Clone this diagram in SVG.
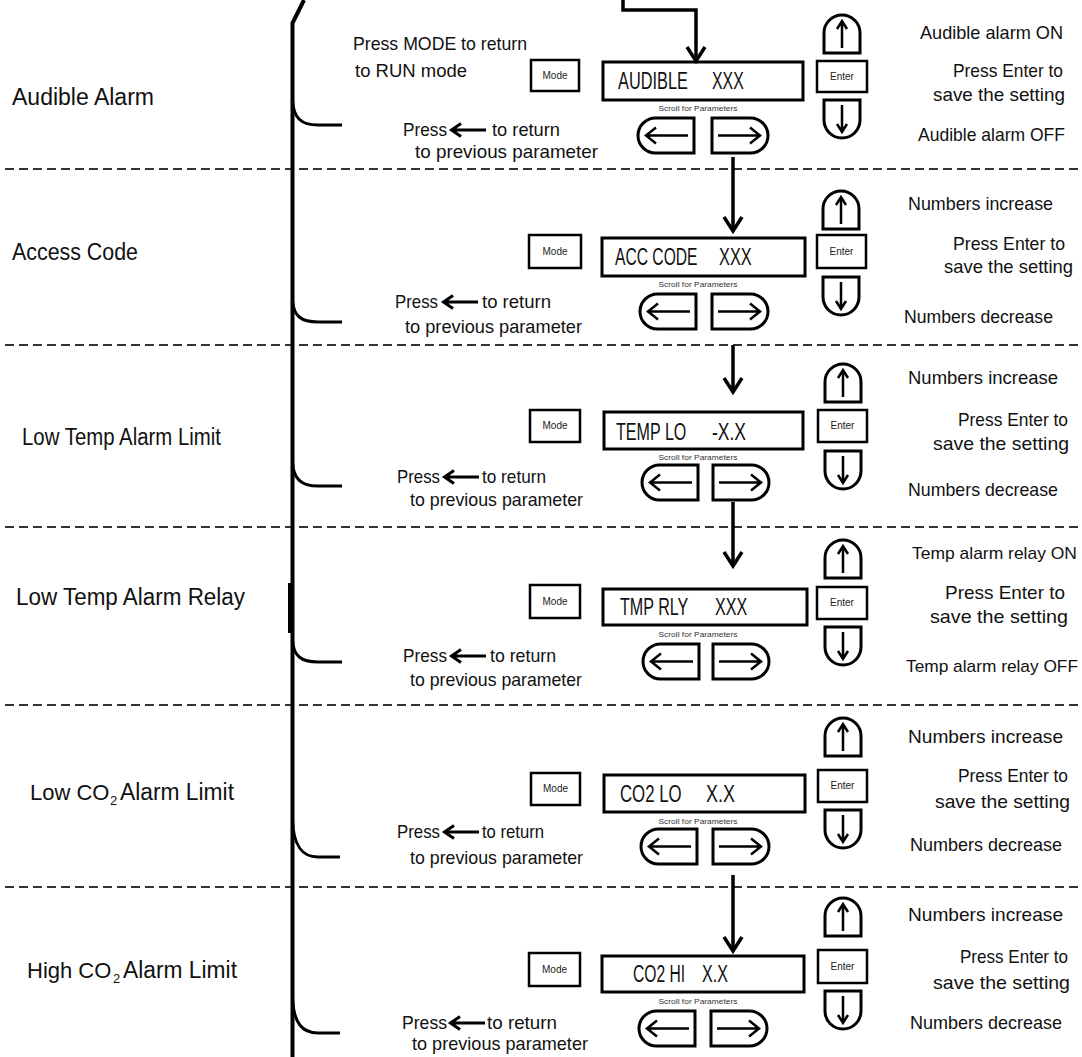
<svg xmlns="http://www.w3.org/2000/svg" xmlns:xlink="http://www.w3.org/1999/xlink" width="1082" height="1057" viewBox="0 0 1082 1057">
<style>
.lab{font-family:"Liberation Sans",Arial,sans-serif;font-size:23px;fill:#111}
.lab2{font-family:"Liberation Sans",Arial,sans-serif;font-size:22px;fill:#111}
.sub{font-family:"Liberation Sans",Arial,sans-serif;font-size:13px;fill:#111}
.t{font-family:"Liberation Sans Narrow","Liberation Sans",Arial,sans-serif;font-size:19px;fill:#111}
.bx{font-family:"Liberation Sans Narrow","Liberation Sans",Arial,sans-serif;font-size:23px;fill:#111}
.sm{font-family:"Liberation Sans Narrow","Liberation Sans",Arial,sans-serif;font-size:10px;fill:#222;text-anchor:middle}
.tiny{font-family:"Liberation Sans Narrow","Liberation Sans",Arial,sans-serif;font-size:7px;fill:#333;text-anchor:middle}
.box{fill:none;stroke:#000;stroke-width:3}
.kb{fill:#fff;stroke:#000;stroke-width:2.5}
.btn{fill:#fff;stroke:#000;stroke-width:3}
.ar{fill:none;stroke:#000;stroke-width:2.5}
.pa{fill:none;stroke:#000;stroke-width:3}
.div{fill:none;stroke:#333;stroke-width:2;stroke-dasharray:9 5}
.conn{fill:none;stroke:#000;stroke-width:3.5}
.brk{fill:none;stroke:#000;stroke-width:3}
</style>
<defs>
<marker id="ah" markerUnits="userSpaceOnUse" markerWidth="24" markerHeight="24" viewBox="-20 -12 24 24" refX="0" refY="0" orient="auto">
<path d="M-14,-9 L0,0 L-14,9" fill="none" stroke="#000" stroke-width="3.5"/>
</marker>
<g id="btnUp"><path class="btn" d="M0,38 V18 A18,18 0 0 1 36,18 V38 Z"/><path class="ar" d="M18,33 V7 M13,14 L18,6 L23,14"/></g>
<g id="btnDown"><path class="btn" d="M0,0 V20 A18,18 0 0 0 36,20 V0 Z"/><path class="ar" d="M18,5 V31 M13,24 L18,32 L23,24"/></g>
<g id="btnLeft"><path class="btn" d="M56,0 H17.5 A17.5,17.5 0 0 0 17.5,35 H56 Z"/><path class="ar" d="M50,17.5 H8 M18,9.5 L8,17.5 L18,25.5"/></g>
<g id="btnRight"><path class="btn" d="M0,0 H38.5 A17.5,17.5 0 0 1 38.5,35 H0 Z"/><path class="ar" d="M6,17.5 H48 M38,9.5 L48,17.5 L38,25.5"/></g>
<path id="pArrow" class="pa" d="M36,0 H2 M11,-6.5 L1.5,0 L11,6.5"/>
</defs>
<rect width="1082" height="1057" fill="#fff"/>

<g id="dividers">
<line class="div" x1="5" y1="169" x2="1082" y2="169"/>
<line class="div" x1="5" y1="345" x2="1082" y2="345"/>
<line class="div" x1="5" y1="527" x2="1082" y2="527"/>
<line class="div" x1="5" y1="705" x2="1082" y2="705"/>
<line class="div" x1="5" y1="887" x2="1082" y2="887"/>
</g>

<g id="connectors">
<path d="M304,0 L292.5,23 V1057" fill="none" stroke="#000" stroke-width="4"/>
<path d="M290.5,583 V633" fill="none" stroke="#000" stroke-width="5"/>
<path class="brk" d="M292.5,100 C293.5,118 301,125 318,125 L342,125"/>
<path class="brk" d="M292.5,300 C293.5,316 301,322 318,322 L342,322"/>
<path class="brk" d="M292.5,462 C293.5,479 301,486 318,486 L342,486"/>
<path class="brk" d="M292.5,640 C293.5,656 301,662 318,662 L342,662"/>
<path class="brk" d="M292.5,820 C293.5,846 302,857 318,857 L340,857"/>
<path class="brk" d="M292.5,997 C293.5,1023 302,1033 318,1033 L340,1033"/>
<path class="conn" d="M623,0 V10 H696 V61" marker-end="url(#ah)"/>
<path class="conn" d="M733,157 V231" marker-end="url(#ah)"/>
<path class="conn" d="M733,345 V392" marker-end="url(#ah)"/>
<path class="conn" d="M733,502 V566" marker-end="url(#ah)"/>
<path class="conn" d="M733,875 V951" marker-end="url(#ah)"/>
</g>

<g id="sec-audible">
<text class="lab" x="12" y="105" textLength="142" lengthAdjust="spacingAndGlyphs">Audible Alarm</text>
<text class="t" x="353" y="50" textLength="174" lengthAdjust="spacingAndGlyphs">Press MODE to return</text>
<text class="t" x="355" y="77" textLength="112" lengthAdjust="spacingAndGlyphs">to RUN mode</text>
<text class="t" x="403" y="136" textLength="44" lengthAdjust="spacingAndGlyphs">Press</text>
<use href="#pArrow" x="450" y="130"/>
<text class="t" x="492" y="136" textLength="68" lengthAdjust="spacingAndGlyphs">to return</text>
<text class="t" x="415" y="158" textLength="183" lengthAdjust="spacingAndGlyphs">to previous parameter</text>
<rect class="kb" x="531" y="60" width="48" height="31"/><text class="sm" x="555" y="79">Mode</text>
<rect class="box" x="603" y="62" width="200" height="38"/>
<text class="bx" transform="translate(618,89) scale(0.71,1)">AUDIBLE</text>
<text class="bx" transform="translate(712,89) scale(0.69,1)">XXX</text>
<text class="tiny" x="698" y="111" textLength="79" lengthAdjust="spacingAndGlyphs">Scroll for Parameters</text>
<use href="#btnLeft" x="638" y="118"/><use href="#btnRight" x="712" y="118"/>
<use href="#btnUp" x="824" y="15"/>
<rect class="kb" x="817" y="61" width="50" height="31"/><text class="sm" x="842" y="80">Enter</text>
<use href="#btnDown" x="824" y="100"/>
<text class="t" x="920" y="39" textLength="143" lengthAdjust="spacingAndGlyphs">Audible alarm ON</text>
<text class="t" x="953" y="77" textLength="110" lengthAdjust="spacingAndGlyphs">Press Enter to</text>
<text class="t" x="933" y="101" textLength="132" lengthAdjust="spacingAndGlyphs">save the setting</text>
<text class="t" x="918" y="141" textLength="147" lengthAdjust="spacingAndGlyphs">Audible alarm OFF</text>
</g>

<g id="sec-access">
<text class="lab" x="12" y="260" textLength="126" lengthAdjust="spacingAndGlyphs">Access Code</text>
<text class="t" x="395" y="308" textLength="43" lengthAdjust="spacingAndGlyphs">Press</text>
<use href="#pArrow" x="442" y="302"/>
<text class="t" x="482" y="308" textLength="69" lengthAdjust="spacingAndGlyphs">to return</text>
<text class="t" x="405" y="333" textLength="177" lengthAdjust="spacingAndGlyphs">to previous parameter</text>
<rect class="kb" x="529" y="235" width="52" height="33"/><text class="sm" x="555" y="255">Mode</text>
<rect class="box" x="602" y="238" width="203" height="38"/>
<text class="bx" transform="translate(615,265) scale(0.68,1)">ACC CODE</text>
<text class="bx" transform="translate(719,265) scale(0.71,1)">XXX</text>
<text class="tiny" x="698" y="287" textLength="79" lengthAdjust="spacingAndGlyphs">Scroll for Parameters</text>
<use href="#btnLeft" x="640" y="294"/><use href="#btnRight" x="712" y="294"/>
<use href="#btnUp" x="823" y="191"/>
<rect class="kb" x="817" y="235" width="49" height="33"/><text class="sm" x="841.5" y="255">Enter</text>
<use href="#btnDown" x="823" y="277"/>
<text class="t" x="908" y="210" textLength="145" lengthAdjust="spacingAndGlyphs">Numbers increase</text>
<text class="t" x="953" y="250" textLength="112" lengthAdjust="spacingAndGlyphs">Press Enter to</text>
<text class="t" x="944" y="273" textLength="129" lengthAdjust="spacingAndGlyphs">save the setting</text>
<text class="t" x="904" y="323" textLength="149" lengthAdjust="spacingAndGlyphs">Numbers decrease</text>
</g>

<g id="sec-templo">
<text class="lab" x="22" y="445" textLength="199" lengthAdjust="spacingAndGlyphs">Low Temp Alarm Limit</text>
<text class="t" x="397" y="483" textLength="43" lengthAdjust="spacingAndGlyphs">Press</text>
<use href="#pArrow" x="443" y="477"/>
<text class="t" x="482" y="483" textLength="64" lengthAdjust="spacingAndGlyphs">to return</text>
<text class="t" x="410" y="506" textLength="173" lengthAdjust="spacingAndGlyphs">to previous parameter</text>
<rect class="kb" x="530" y="410" width="50" height="32"/><text class="sm" x="555" y="429">Mode</text>
<rect class="box" x="604" y="412" width="199" height="37"/>
<text class="bx" transform="translate(616,440) scale(0.70,1)">TEMP LO</text>
<text class="bx" transform="translate(712,440) scale(0.76,1)">-X.X</text>
<text class="tiny" x="698" y="460" textLength="79" lengthAdjust="spacingAndGlyphs">Scroll for Parameters</text>
<use href="#btnLeft" x="642" y="465"/><use href="#btnRight" x="713" y="465"/>
<use href="#btnUp" x="825" y="364"/>
<rect class="kb" x="818" y="410" width="49" height="32"/><text class="sm" x="842.5" y="429">Enter</text>
<use href="#btnDown" x="825" y="451"/>
<text class="t" x="908" y="384" textLength="150" lengthAdjust="spacingAndGlyphs">Numbers increase</text>
<text class="t" x="958" y="426" textLength="110" lengthAdjust="spacingAndGlyphs">Press Enter to</text>
<text class="t" x="933" y="450" textLength="136" lengthAdjust="spacingAndGlyphs">save the setting</text>
<text class="t" x="908" y="496" textLength="150" lengthAdjust="spacingAndGlyphs">Numbers decrease</text>
</g>

<g id="sec-temprly">
<text class="lab" x="16" y="605" textLength="229" lengthAdjust="spacingAndGlyphs">Low Temp Alarm Relay</text>
<text class="t" x="403" y="662" textLength="44" lengthAdjust="spacingAndGlyphs">Press</text>
<use href="#pArrow" x="450" y="656"/>
<text class="t" x="490" y="662" textLength="66" lengthAdjust="spacingAndGlyphs">to return</text>
<text class="t" x="410" y="686" textLength="172" lengthAdjust="spacingAndGlyphs">to previous parameter</text>
<rect class="kb" x="530" y="585" width="50" height="33"/><text class="sm" x="555" y="605">Mode</text>
<rect class="box" x="603" y="589" width="204" height="36"/>
<text class="bx" transform="translate(620,615) scale(0.70,1)">TMP RLY</text>
<text class="bx" transform="translate(715,615) scale(0.70,1)">XXX</text>
<text class="tiny" x="698" y="637" textLength="79" lengthAdjust="spacingAndGlyphs">Scroll for Parameters</text>
<use href="#btnLeft" x="643" y="644"/><use href="#btnRight" x="713" y="644"/>
<use href="#btnUp" x="825" y="540"/>
<rect class="kb" x="817" y="587" width="50" height="32"/><text class="sm" x="842" y="606">Enter</text>
<use href="#btnDown" x="825" y="627"/>
<text class="t" x="912" y="559" textLength="165" lengthAdjust="spacingAndGlyphs" style="font-size:17px">Temp alarm relay ON</text>
<text class="t" x="945" y="599" textLength="120" lengthAdjust="spacingAndGlyphs">Press Enter to</text>
<text class="t" x="930" y="623" textLength="138" lengthAdjust="spacingAndGlyphs">save the setting</text>
<text class="t" x="906" y="672" textLength="172" lengthAdjust="spacingAndGlyphs" style="font-size:17px">Temp alarm relay OFF</text>
</g>

<g id="sec-co2lo">
<text class="lab2" x="30" y="800">Low CO</text>
<text class="sub" x="110" y="805">2</text>
<text class="lab" x="120" y="800" textLength="114" lengthAdjust="spacingAndGlyphs">Alarm Limit</text>
<text class="t" x="397" y="838" textLength="43" lengthAdjust="spacingAndGlyphs">Press</text>
<use href="#pArrow" x="443" y="832"/>
<text class="t" x="482" y="838" textLength="62" lengthAdjust="spacingAndGlyphs">to return</text>
<text class="t" x="410" y="864" textLength="173" lengthAdjust="spacingAndGlyphs">to previous parameter</text>
<rect class="kb" x="531" y="773" width="49" height="32"/><text class="sm" x="555.5" y="792">Mode</text>
<rect class="box" x="604" y="775" width="201" height="37"/>
<text class="bx" transform="translate(620,802) scale(0.73,1)">CO2 LO</text>
<text class="bx" transform="translate(706,802) scale(0.78,1)">X.X</text>
<text class="tiny" x="698" y="824" textLength="79" lengthAdjust="spacingAndGlyphs">Scroll for Parameters</text>
<use href="#btnLeft" x="641" y="829"/><use href="#btnRight" x="713" y="829"/>
<use href="#btnUp" x="825" y="718"/>
<rect class="kb" x="818" y="770" width="49" height="32"/><text class="sm" x="842.5" y="789">Enter</text>
<use href="#btnDown" x="825" y="810"/>
<text class="t" x="908" y="743" textLength="155" lengthAdjust="spacingAndGlyphs">Numbers increase</text>
<text class="t" x="958" y="782" textLength="110" lengthAdjust="spacingAndGlyphs">Press Enter to</text>
<text class="t" x="935" y="808" textLength="135" lengthAdjust="spacingAndGlyphs">save the setting</text>
<text class="t" x="910" y="851" textLength="152" lengthAdjust="spacingAndGlyphs">Numbers decrease</text>
</g>

<g id="sec-co2hi">
<text class="lab2" x="27" y="978">High CO</text>
<text class="sub" x="113" y="983">2</text>
<text class="lab" x="123" y="978" textLength="114" lengthAdjust="spacingAndGlyphs">Alarm Limit</text>
<text class="t" x="402" y="1029" textLength="45" lengthAdjust="spacingAndGlyphs">Press</text>
<use href="#pArrow" x="449" y="1023"/>
<text class="t" x="487" y="1029" textLength="70" lengthAdjust="spacingAndGlyphs">to return</text>
<text class="t" x="412" y="1050" textLength="176" lengthAdjust="spacingAndGlyphs">to previous parameter</text>
<rect class="kb" x="529" y="953" width="51" height="33"/><text class="sm" x="554.5" y="973">Mode</text>
<rect class="box" x="602" y="956" width="202" height="36"/>
<text class="bx" transform="translate(633,982) scale(0.68,1)">CO2 HI</text>
<text class="bx" transform="translate(702,982) scale(0.70,1)">X.X</text>
<text class="tiny" x="698" y="1004" textLength="79" lengthAdjust="spacingAndGlyphs">Scroll for Parameters</text>
<use href="#btnLeft" x="639" y="1011"/><use href="#btnRight" x="711" y="1011"/>
<use href="#btnUp" x="825" y="898"/>
<rect class="kb" x="818" y="950" width="49" height="33"/><text class="sm" x="842.5" y="970">Enter</text>
<use href="#btnDown" x="825" y="991"/>
<text class="t" x="908" y="921" textLength="155" lengthAdjust="spacingAndGlyphs">Numbers increase</text>
<text class="t" x="960" y="963" textLength="108" lengthAdjust="spacingAndGlyphs">Press Enter to</text>
<text class="t" x="933" y="989" textLength="137" lengthAdjust="spacingAndGlyphs">save the setting</text>
<text class="t" x="910" y="1029" textLength="152" lengthAdjust="spacingAndGlyphs">Numbers decrease</text>
</g>
</svg>
